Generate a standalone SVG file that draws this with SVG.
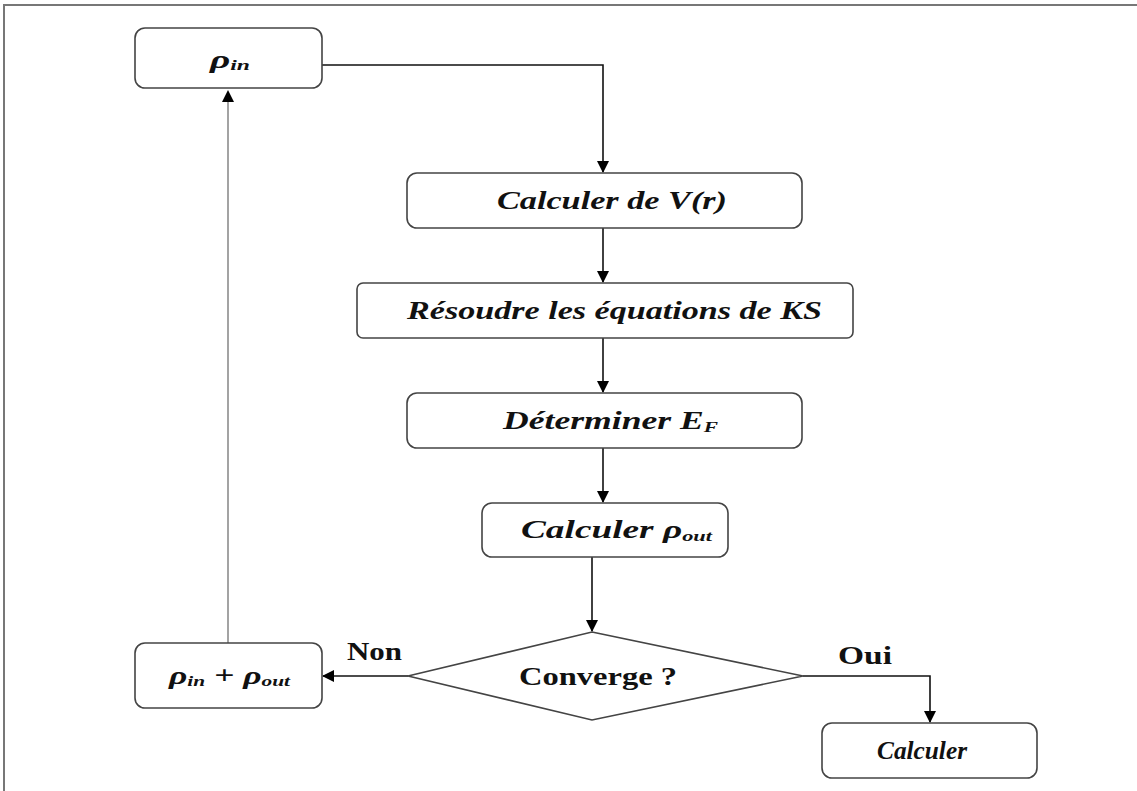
<svg xmlns="http://www.w3.org/2000/svg" width="1137" height="791" viewBox="0 0 1137 791">
<defs>
<marker id="ah" markerWidth="12" markerHeight="12" refX="11" refY="6" orient="auto" markerUnits="userSpaceOnUse">
<path d="M0,0 L12,6 L0,12 Z" fill="#000"/>
</marker>
<style>
.box{fill:#fff;stroke:#444;stroke-width:1.6}
.t{font-family:"Liberation Serif","Times New Roman",serif;font-weight:bold;font-style:italic;font-size:25px;fill:#111}
.n{font-family:"Liberation Serif","Times New Roman",serif;font-weight:bold;font-size:25px;fill:#111}
.sub{font-size:15px}
.c{fill:none;stroke:#111;stroke-width:1.6}
.thin{fill:none;stroke:#666;stroke-width:1.2}
</style>
</defs>
<rect width="1137" height="791" fill="#fff"/>
<path d="M4,791 L4,5 L1137,5" fill="none" stroke="#777" stroke-width="2"/>
<g id="connectors">
<path class="c" d="M322,65 L603,65 L603,172" marker-end="url(#ah)"/>
<path class="c" d="M603,228 L603,282" marker-end="url(#ah)"/>
<path class="c" d="M603,338 L603,392" marker-end="url(#ah)"/>
<path class="c" d="M603,448 L603,502" marker-end="url(#ah)"/>
<path class="c" d="M592,557 L592,631" marker-end="url(#ah)"/>
<path class="c" d="M408,676 L323,676" marker-end="url(#ah)"/>
<path class="thin" d="M228,643 L228,96"/>
<path d="M222,102 L228,90 L234,102 Z" fill="#000"/>
<path class="c" d="M803,676 L930,676 L930,722" marker-end="url(#ah)"/>
<text class="n" x="347" y="660" textLength="55" lengthAdjust="spacingAndGlyphs">Non</text>
<text class="n" x="838" y="664" textLength="54" lengthAdjust="spacingAndGlyphs">Oui</text>
</g>
<g id="rho_in">
<rect class="box" x="135" y="28" width="187" height="60" rx="10"/>
<text class="t" x="210" y="68" textLength="40" lengthAdjust="spacingAndGlyphs">ρ<tspan class="sub" dy="2">in</tspan></text>
</g>
<g id="calc_v">
<rect class="box" x="407" y="173" width="395" height="55" rx="10"/>
<text class="t" x="497" y="209" textLength="230" lengthAdjust="spacingAndGlyphs">Calculer de V(r)</text>
</g>
<g id="resoudre">
<rect class="box" x="357" y="283" width="496" height="55" rx="6"/>
<text class="t" x="407" y="319" textLength="415" lengthAdjust="spacingAndGlyphs">Résoudre les équations de KS</text>
</g>
<g id="determiner">
<rect class="box" x="407" y="393" width="395" height="55" rx="10"/>
<text class="t" x="503" y="429" textLength="215" lengthAdjust="spacingAndGlyphs">Déterminer  E<tspan class="sub" dy="3">F</tspan></text>
</g>
<g id="calc_rho_out">
<rect class="box" x="482" y="503" width="246" height="54" rx="10"/>
<text class="t" x="521" y="538" textLength="191" lengthAdjust="spacingAndGlyphs">Calculer ρ<tspan class="sub" dy="3">out</tspan></text>
</g>
<g id="converge">
<polygon class="box" points="592,632 803,676 592,720 408,676"/>
<text class="n" x="519" y="685" textLength="158" lengthAdjust="spacingAndGlyphs">Converge ?</text>
</g>
<g id="rho_sum">
<rect class="box" x="135" y="643" width="187" height="65" rx="10"/>
<text class="t" x="169" y="684" textLength="121" lengthAdjust="spacingAndGlyphs">ρ<tspan class="sub" dy="2">in</tspan><tspan dy="-2"> + ρ</tspan><tspan class="sub" dy="2">out</tspan></text>
</g>
<g id="calculer">
<rect class="box" x="822" y="723" width="215" height="55" rx="10"/>
<text class="t" x="877" y="759" textLength="90" lengthAdjust="spacingAndGlyphs">Calculer</text>
</g>
</svg>
